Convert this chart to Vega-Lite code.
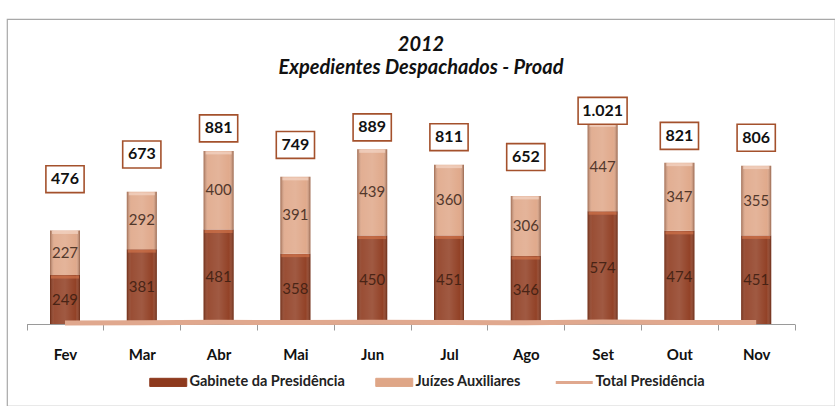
{
  "$schema": "https://vega.github.io/schema/vega-lite/v6.json",
  "width": 828,
  "height": 387,
  "autosize": {"type": "none"},
  "padding": {"left": 7, "top": 19, "right": 0, "bottom": 0},
  "background": "white",
  "config": {
    "font": "Lato",
    "view": {"stroke": "#a8a8a8", "strokeWidth": 1.2},
    "locale": {"number": {"decimal": ",", "thousands": ".", "grouping": [3], "currency": ["R$", ""]}}
  },
  "title": {
    "text": "2012",
    "subtitle": "Expedientes Despachados - Proad",
    "font": "Lato",
    "fontSize": 20,
    "fontStyle": "italic",
    "fontWeight": "bold",
    "color": "#111111",
    "subtitleFont": "Lato",
    "subtitleFontSize": 20,
    "subtitleFontStyle": "italic",
    "subtitleFontWeight": "bold",
    "subtitleColor": "#111111",
    "subtitlePadding": 3,
    "anchor": "middle",
    "frame": "group",
    "offset": -59
  },
  "data": {
    "values": [
      {"mes": "Fev", "gabinete": 249, "juizes": 227, "total": 476},
      {"mes": "Mar", "gabinete": 381, "juizes": 292, "total": 673},
      {"mes": "Abr", "gabinete": 481, "juizes": 400, "total": 881},
      {"mes": "Mai", "gabinete": 358, "juizes": 391, "total": 749},
      {"mes": "Jun", "gabinete": 450, "juizes": 439, "total": 889},
      {"mes": "Jul", "gabinete": 451, "juizes": 360, "total": 811},
      {"mes": "Ago", "gabinete": 346, "juizes": 306, "total": 652},
      {"mes": "Set", "gabinete": 574, "juizes": 447, "total": 1021},
      {"mes": "Out", "gabinete": 474, "juizes": 347, "total": 821},
      {"mes": "Nov", "gabinete": 451, "juizes": 355, "total": 806}
    ]
  },
  "encoding": {
    "x": {
      "field": "mes",
      "type": "nominal",
      "sort": ["Fev", "Mar", "Abr", "Mai", "Jun", "Jul", "Ago", "Set", "Out", "Nov"],
      "scale": {"range": [19.6, 787.6], "paddingInner": 0, "paddingOuter": 0},
      "axis": {
        "title": null,
        "grid": false,
        "labelAngle": 0,
        "tickBand": "extent",
        "domainColor": "#9a9a9a",
        "tickColor": "#9a9a9a",
        "tickSize": 6,
        "labelFont": "Lato",
        "labelFontSize": 15,
        "labelFontWeight": "bold",
        "labelColor": "#111111",
        "labelPadding": 17,
        "offset": -82
      }
    }
  },
  "layer": [
    {
      "transform": [{"fold": ["gabinete", "juizes"], "as": ["serie", "valor"]}],
      "mark": {"type": "bar", "width": 30},
      "encoding": {
        "y": {"field": "valor", "type": "quantitative", "stack": "zero", "scale": {"domain": [-417.3, 1552.2], "nice": false, "zero": false}, "axis": null},
        "color": {
          "field": "serie",
          "type": "nominal",
          "scale": {"domain": ["gabinete", "juizes", "total"], "range": ["#8E3A1E", "#DFA687", "#E0A88E"]},
          "legend": {
            "title": null,
            "orient": "none",
            "legendX": 154,
            "legendY": 356,
            "direction": "horizontal",
            "padding": 0,
            "columnPadding": 28,
            "labelOffset": 14,
            "symbolSize": 1369,
            "labelFont": "Lato",
            "labelFontSize": 14.5,
            "labelFontWeight": "bold",
            "labelColor": "#222222",
            "labelExpr": "datum.value === 'gabinete' ? 'Gabinete da Presidência' : datum.value === 'juizes' ? 'Juízes Auxiliares' : 'Total Presidência'",
            "encode": {
              "symbols": {
                "update": {
                  "shape": {"signal": "datum.value === 'total' ? 'stroke' : 'M-1,-0.22H1V0.22H-1Z'"},
                  "strokeWidth": {"signal": "datum.value === 'total' ? 3 : 1"},
                  "stroke": {"signal": "datum.value === 'total' ? '#E0A88E' : '#7a3218'"}
                }
              }
            }
          }
        },
        "order": {"field": "serie"}
      }
    },
    {
      "mark": {
        "type": "bar",
        "width": 30,
        "fill": {
          "gradient": "linear",
          "x1": 0, "x2": 1, "y1": 0, "y2": 0,
          "stops": [
            {"offset": 0, "color": "rgba(60,20,5,0.40)"},
            {"offset": 0.15, "color": "rgba(255,255,255,0.10)"},
            {"offset": 0.5, "color": "rgba(255,255,255,0.16)"},
            {"offset": 0.85, "color": "rgba(255,255,255,0.04)"},
            {"offset": 1, "color": "rgba(60,20,5,0.45)"}
          ]
        }
      },
      "encoding": {
        "y": {"field": "total", "type": "quantitative", "scale": {"domain": [-417.3, 1552.2], "nice": false, "zero": false}, "axis": null}
      }
    },
    {
      "mark": {"type": "tick", "orient": "horizontal", "size": 28, "thickness": 3, "color": "#D07248", "yOffset": 2},
      "encoding": {
        "y": {"field": "gabinete", "type": "quantitative", "scale": {"domain": [-417.3, 1552.2], "nice": false, "zero": false}, "axis": null}
      }
    },
    {
      "mark": {"type": "tick", "orient": "horizontal", "size": 26, "thickness": 3, "color": "#F4D6C6", "yOffset": 2},
      "encoding": {
        "y": {"field": "total", "type": "quantitative", "scale": {"domain": [-417.3, 1552.2], "nice": false, "zero": false}, "axis": null}
      }
    },
    {
      "mark": {"type": "line", "strokeWidth": 5},
      "encoding": {
        "y": {"field": "total", "type": "quantitative", "scale": {"domain": [-41730, 155220], "nice": false, "zero": false}, "axis": null},
        "color": {"datum": "total", "type": "nominal"}
      }
    },
    {
      "mark": {"type": "text", "fontSize": 15, "color": "#3a1c10", "opacity": 0.85, "baseline": "middle"},
      "encoding": {
        "y": {"field": "gabinete", "type": "quantitative", "scale": {"domain": [-834.6, 3104.4], "nice": false, "zero": false}, "axis": null},
        "text": {"field": "gabinete", "type": "quantitative"}
      }
    },
    {
      "transform": [{"fold": ["gabinete", "total"], "as": ["k", "v"]}],
      "mark": {"type": "text", "fontSize": 15, "color": "#3a2418", "opacity": 0.85, "baseline": "middle"},
      "encoding": {
        "y": {"aggregate": "mean", "field": "v", "type": "quantitative", "scale": {"domain": [-417.3, 1552.2], "nice": false, "zero": false}, "axis": null},
        "text": {"aggregate": "max", "field": "juizes", "type": "quantitative"}
      }
    },
    {
      "mark": {"type": "point", "filled": true, "fill": "white", "stroke": "#A4512C", "strokeWidth": 1.6, "size": 2401, "opacity": 1},
      "encoding": {
        "y": {"field": "total", "type": "quantitative", "scale": {"domain": [-1332.9, 1753.2], "nice": false, "zero": false}, "axis": null},
        "shape": {"condition": {"test": "datum.total >= 1000", "value": "M-1,-0.55H1V0.55H-1Z"}, "value": "M-0.78,-0.55H0.78V0.55H-0.78Z"}
      }
    },
    {
      "mark": {"type": "text", "fontSize": 16, "fontWeight": "bold", "color": "#111111", "baseline": "middle"},
      "encoding": {
        "y": {"field": "total", "type": "quantitative", "scale": {"domain": [-1332.9, 1753.2], "nice": false, "zero": false}, "axis": null},
        "text": {"field": "total", "type": "quantitative", "format": ",d"}
      }
    }
  ],
  "resolve": {"scale": {"y": "independent"}}
}
